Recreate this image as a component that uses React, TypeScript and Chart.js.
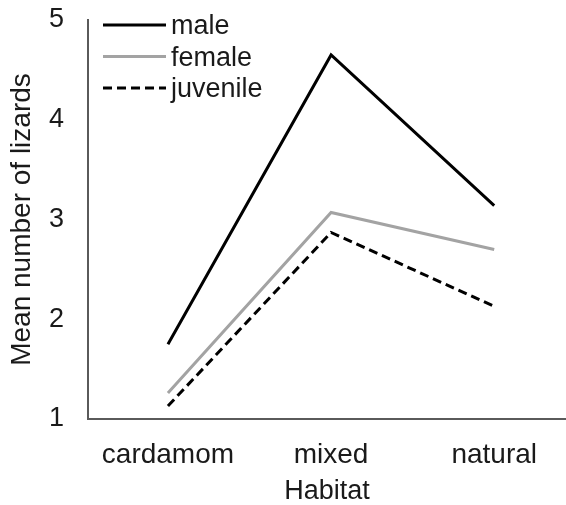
import React, { useEffect, useRef } from "react";
import { Chart, registerables } from "chart.js";

Chart.register(...registerables);

const categories = ["cardamom", "mixed", "natural"];
const seriesNames = ["male", "female", "juvenile"];
const maleValues = [1.75, 4.65, 3.14];
const femaleValues = [1.26, 3.07, 2.7];
const juvenileValues = [1.13, 2.87, 2.13];
const yTicks = [1, 2, 3, 4, 5];
const xTitle = "Habitat";
const yTitle = "Mean number of lizards";

const FONT = "'Liberation Sans', Arial, sans-serif";
const TEXT_COLOR = "#1a1a1a";
const AXIS_COLOR = "#5a5a5a";

const legendPlugin = {
  id: "insideLegend",
  afterDraw(chart: any) {
    const { ctx, chartArea } = chart;
    const x0 = chartArea.left + 15;
    const x1 = chartArea.left + 78;
    ctx.save();
    ctx.font = `27px ${FONT}`;
    ctx.textBaseline = "middle";
    ctx.textAlign = "left";
    chart.data.datasets.forEach((ds: any, i: number) => {
      const y = chartArea.top + 5 + i * 31.5;
      ctx.beginPath();
      ctx.strokeStyle = ds.borderColor;
      ctx.lineWidth = ds.borderWidth;
      ctx.setLineDash(ds.borderDash || []);
      ctx.moveTo(x0, y);
      ctx.lineTo(x1, y);
      ctx.stroke();
      ctx.setLineDash([]);
      ctx.fillStyle = TEXT_COLOR;
      ctx.fillText(ds.label, x1 + 5, y + 2);
    });
    ctx.restore();
  },
};

export default function App() {
  const ref = useRef<HTMLCanvasElement>(null);
  useEffect(() => {
    document.body.style.margin = "0";
    const toPoints = (vals: number[]) => categories.map((_, i) => ({ x: i, y: vals[i] }));
    const chart = new Chart(ref.current!, {
      type: "line",
      data: {
        datasets: [
          {
            label: seriesNames[0],
            data: toPoints(maleValues),
            borderColor: "#000000",
            borderWidth: 3,
            pointRadius: 0,
            tension: 0,
          },
          {
            label: seriesNames[1],
            data: toPoints(femaleValues),
            borderColor: "#a3a3a3",
            borderWidth: 3,
            pointRadius: 0,
            tension: 0,
          },
          {
            label: seriesNames[2],
            data: toPoints(juvenileValues),
            borderColor: "#000000",
            borderWidth: 3,
            borderDash: [9, 5],
            pointRadius: 0,
            tension: 0,
          },
        ],
      },
      plugins: [legendPlugin],
      options: {
        responsive: false,
        animation: false,
        events: [],
        layout: { padding: { top: 20, right: 0, left: 0, bottom: 0 } },
        plugins: { legend: { display: false }, tooltip: { enabled: false } },
        scales: {
          x: {
            type: "linear",
            min: -0.49,
            max: 2.44,
            grid: { display: false, drawTicks: false },
            border: { display: true, color: AXIS_COLOR, width: 2 },
            afterBuildTicks: (scale: any) => {
              scale.ticks = categories.map((_, i) => ({ value: i }));
            },
            afterFit: (scale: any) => {
              scale.height = 86;
              scale.paddingLeft = 0;
              scale.paddingRight = 0;
            },
            ticks: {
              padding: 19,
              color: TEXT_COLOR,
              font: { family: FONT, size: 28 },
              maxRotation: 0,
              autoSkip: false,
              callback: (v: any) => categories[v as number],
            },
            title: {
              display: true,
              text: xTitle,
              color: TEXT_COLOR,
              font: { family: FONT, size: 27, lineHeight: 1 },
              padding: { top: 0, bottom: 0 },
            },
          },
          y: {
            type: "linear",
            min: 1,
            max: 5,
            grid: { display: false, drawTicks: false },
            border: { display: true, color: AXIS_COLOR, width: 2 },
            afterBuildTicks: (scale: any) => {
              scale.ticks = yTicks.map((v) => ({ value: v }));
            },
            afterFit: (scale: any) => {
              scale.width = 88;
              scale.paddingTop = 0;
              scale.paddingBottom = 0;
            },
            ticks: {
              padding: 24,
              color: TEXT_COLOR,
              font: { family: FONT, size: 27 },
            },
            title: {
              display: true,
              text: yTitle,
              color: TEXT_COLOR,
              font: { family: FONT, size: 28, lineHeight: 1 },
              padding: { top: 8, bottom: 0 },
            },
          },
        },
      },
    });
    return () => chart.destroy();
  }, []);
  return <canvas ref={ref} width={566} height={505} />;
}
